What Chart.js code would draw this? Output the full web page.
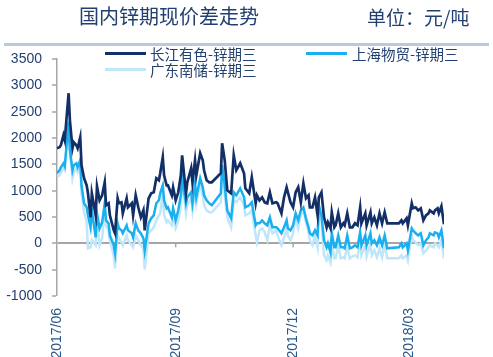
<!DOCTYPE html>
<html><head><meta charset="utf-8">
<script src="https://cdn.jsdelivr.net/npm/chart.js@4"></script>
<style>
html,body{margin:0;padding:0;background:#fff;}
#wrap{position:relative;width:493px;height:357px;overflow:hidden;font-family:"Noto Sans CJK SC",sans-serif;}
canvas{position:absolute;left:0;top:0;}
.title{position:absolute;left:79px;top:2px;font-size:20px;color:#223f6f;line-height:28px;white-space:nowrap;}
.unit{position:absolute;left:367px;top:3px;font-size:19px;color:#223f6f;line-height:28px;white-space:nowrap;}
.rule{position:absolute;left:4px;top:43px;width:485px;height:3px;background:#b8cadf;}
.sw{position:absolute;height:3px;width:41px;}
.lt{position:absolute;font-size:14.5px;color:#223f6f;line-height:18px;white-space:nowrap;}
</style>
</head><body>
<div id="wrap">
<canvas id="c" width="493" height="357"></canvas>
<div class="title">国内锌期现价差走势</div>
<div class="unit">单位：元/吨</div>
<div class="rule"></div>
<div class="sw" style="left:105px;top:52px;background:#132f68"></div>
<div class="lt" style="left:150px;top:45px">长江有色-锌期三</div>
<div class="sw" style="left:306px;top:52px;background:#1ab0f0"></div>
<div class="lt" style="left:352px;top:45px">上海物贸-锌期三</div>
<div class="sw" style="left:105px;top:68px;background:#bfe6f9"></div>
<div class="lt" style="left:150px;top:61px">广东南储-锌期三</div>
</div>
<script>
const seriesNames = ['长江有色-锌期三', '上海物贸-锌期三', '广东南储-锌期三'];
const tickDates = ['2017-06-01', '2017-09-01', '2017-12-01', '2018-03-01'];
const tickLabels = ['2017/06', '2017/09', '2017/12', '2018/03'];
const dates = [
 '2017-06-01','2017-06-03','2017-06-04','2017-06-06','2017-06-07','2017-06-10','2017-06-11','2017-06-13','2017-06-14','2017-06-16',
 '2017-06-17','2017-06-19','2017-06-20','2017-06-22','2017-06-24','2017-06-25','2017-06-27','2017-06-28','2017-07-01','2017-07-02',
 '2017-07-04','2017-07-06','2017-07-08','2017-07-09','2017-07-11','2017-07-12','2017-07-15','2017-07-16','2017-07-18','2017-07-19',
 '2017-07-21','2017-07-22','2017-07-25','2017-07-26','2017-07-29','2017-07-30','2017-08-01','2017-08-03','2017-08-05','2017-08-07',
 '2017-08-08','2017-08-11','2017-08-13','2017-08-15','2017-08-17','2017-08-19','2017-08-20','2017-08-22','2017-08-23','2017-08-25',
 '2017-08-26','2017-08-29','2017-08-30','2017-09-01','2017-09-03','2017-09-05','2017-09-06','2017-09-09','2017-09-10','2017-09-13',
 '2017-09-14','2017-09-16','2017-09-17','2017-09-20','2017-09-22','2017-09-23','2017-09-25','2017-09-27','2017-09-29','2017-10-06',
 '2017-10-07','2017-10-09','2017-10-11','2017-10-14','2017-10-16','2017-10-18','2017-10-21','2017-10-24','2017-10-25','2017-10-28',
 '2017-10-30','2017-11-02','2017-11-03','2017-11-05','2017-11-07','2017-11-09','2017-11-11','2017-11-13','2017-11-15','2017-11-18',
 '2017-11-19','2017-11-22','2017-11-24','2017-11-26','2017-11-27','2017-11-29','2017-12-01','2017-12-03','2017-12-05','2017-12-07',
 '2017-12-09','2017-12-11','2017-12-13','2017-12-14','2017-12-16','2017-12-18','2017-12-20','2017-12-21','2017-12-23','2017-12-25',
 '2017-12-27','2017-12-28','2017-12-30','2017-12-31','2018-01-02','2018-01-03','2018-01-05','2018-01-07','2018-01-09','2018-01-10',
 '2018-01-12','2018-01-14','2018-01-16','2018-01-18','2018-01-20','2018-01-22','2018-01-23','2018-01-26','2018-01-27','2018-01-30',
 '2018-01-31','2018-02-02','2018-02-04','2018-02-06','2018-02-08','2018-02-10','2018-02-12','2018-02-21','2018-02-23','2018-02-24',
 '2018-02-27','2018-02-28','2018-03-03','2018-03-04','2018-03-06','2018-03-08','2018-03-10','2018-03-12','2018-03-14','2018-03-16',
 '2018-03-17','2018-03-20','2018-03-21','2018-03-23','2018-03-24','2018-03-26','2018-03-28'
];
const changjiang = [
 1805,1824,1862,2052,1957,2850,2337,1805,1919,1862,
 1805,2014,1482,1235,1102,950,494,950,532,1083,
 817,912,1159,722,760,532,247,190,855,760,
 779,570,855,684,760,532,912,684,494,627,
 247,855,950,969,1235,1197,1330,1634,1292,1102,
 1102,912,1064,817,969,1292,1672,950,1159,1425,
 1159,1577,1292,1710,1577,1387,1197,1159,1159,1330,
 1900,1577,1007,950,1672,1387,1520,1330,1045,950,
 1254,760,912,817,874,779,760,969,760,779,
 760,570,874,1064,969,779,684,969,1064,779,
 1140,855,912,684,684,874,532,874,969,494,
 304,399,285,589,304,342,570,304,380,342,
 570,304,304,380,342,684,380,570,342,589,
 380,494,342,570,380,589,380,380,437,380,
 475,342,760,665,684,627,665,437,532,570,
 627,570,627,665,570,703,361
];
const shanghai = [
 1330,1387,1444,1520,1463,2300,1767,1387,1482,1520,
 1444,1577,1102,760,684,532,304,627,114,570,
 285,399,760,437,380,152,-38,-190,380,285,
 247,190,342,247,190,114,380,247,190,95,
 -133,380,475,532,760,817,950,1102,817,665,
 684,494,665,437,627,912,1235,760,874,969,
 760,1140,874,1235,1064,912,817,760,722,950,
 1482,1102,627,475,969,912,1045,874,684,722,
 779,342,380,380,437,380,342,494,304,304,
 285,190,304,437,285,247,342,570,437,627,
 684,475,304,190,152,247,152,722,532,57,
 -76,0,-171,190,-76,-76,152,-76,-76,-95,
 152,-95,-76,-38,-76,209,-38,152,-38,190,
 0,57,-38,114,-38,152,-95,-76,0,-76,
 0,-133,285,247,190,152,190,-38,57,114,
 190,152,209,190,114,247,-95
];
const guangdong = [
 1254,1292,1349,1425,1387,2350,1805,1235,1349,1425,
 1349,1425,969,589,399,-95,-76,57,-38,475,
 -38,95,627,342,247,57,-228,-475,152,95,
 19,-38,152,57,-38,-76,152,57,-38,-95,
 -494,190,247,304,437,532,570,969,532,399,
 437,342,475,285,437,684,1197,570,722,855,
 627,1007,760,1140,912,722,627,589,589,779,
 1387,912,494,304,817,779,874,722,532,570,
 627,152,19,247,285,209,57,342,190,247,
 152,-38,114,285,152,57,190,475,285,532,
 627,399,209,57,-38,152,-76,589,437,-228,
 -323,-228,-361,-38,-285,-285,-38,-285,-266,-285,
 -76,-285,-247,-228,-266,57,-228,-38,-247,0,
 -228,-133,-266,-95,-266,-19,-285,-285,-228,-285,
 -228,-323,152,57,19,-38,0,-190,-133,-76,
 -38,-76,0,-38,-76,57,-285
];
const yTicks = { min: -1000, max: 3500, step: 500 };

const DAY = 86400000;
const base = Date.parse(tickDates[0]);
const dayOf = s => Math.round((Date.parse(s) - base) / DAY);
const toPts = vals => vals.map((v, i) => ({ x: dayOf(dates[i]), y: v }));

const zeroTicks = {
  id: 'zeroTicks',
  beforeDatasetsDraw(chart) {
    const xs = chart.scales.x, ys = chart.scales.y, ctx = chart.ctx;
    const y0 = ys.getPixelForValue(0);
    ctx.save();
    ctx.strokeStyle = '#a6a6a6';
    ctx.lineWidth = 1.5;
    xs.ticks.forEach(t => {
      if (t.value === 0) return;
      const px = xs.getPixelForValue(t.value);
      ctx.beginPath(); ctx.moveTo(px, y0); ctx.lineTo(px, y0 + 4); ctx.stroke();
    });
    ctx.restore();
  }
};

const lineDs = (label, vals, color, w) => ({
  label, data: toPts(vals), borderColor: color, backgroundColor: color,
  borderWidth: w, pointRadius: 0, tension: 0, fill: false
});

new Chart(document.getElementById('c'), {
  type: 'line',
  data: {
    datasets: [
      lineDs(seriesNames[0], changjiang, '#132f68', 2.7),
      lineDs(seriesNames[1], shanghai, '#1ab0f0', 2.5),
      lineDs(seriesNames[2], guangdong, '#bfe6f9', 2.5)
    ]
  },
  options: {
    responsive: false,
    animation: false,
    layout: { padding: { left: 0, right: 49, top: 59, bottom: 0 } },
    plugins: { legend: { display: false }, tooltip: { enabled: false } },
    scales: {
      x: {
        type: 'linear',
        min: 0,
        max: dayOf(dates[dates.length - 1]),
        afterBuildTicks: s => { s.ticks = tickDates.map(d => ({ value: dayOf(d) })); },
        afterFit: s => { s.height = 61; },
        border: { display: false },
        grid: { display: false },
        ticks: {
          autoSkip: false, minRotation: 90, maxRotation: 90, padding: 4,
          color: '#2a5687',
          font: { family: 'Liberation Sans', size: 14 },
          callback: (v, i) => tickLabels[i]
        }
      },
      y: {
        min: yTicks.min, max: yTicks.max,
        afterFit: s => { s.width = 57; },
        border: { display: true, color: '#a6a6a6', width: 1.5 },
        grid: {
          drawOnChartArea: true,
          color: c => (c.tick && c.tick.value === 0) ? '#a6a6a6' : 'rgba(0,0,0,0)',
          lineWidth: c => (c.tick && c.tick.value === 0) ? 2 : 0,
          tickColor: '#a6a6a6', tickLength: 5, tickWidth: 1.5
        },
        ticks: {
          stepSize: yTicks.step, padding: 10,
          color: '#223f6f',
          font: { family: 'Liberation Sans', size: 14 },
          callback: v => String(v)
        }
      }
    }
  },
  plugins: [zeroTicks]
});
</script>
</body></html>
